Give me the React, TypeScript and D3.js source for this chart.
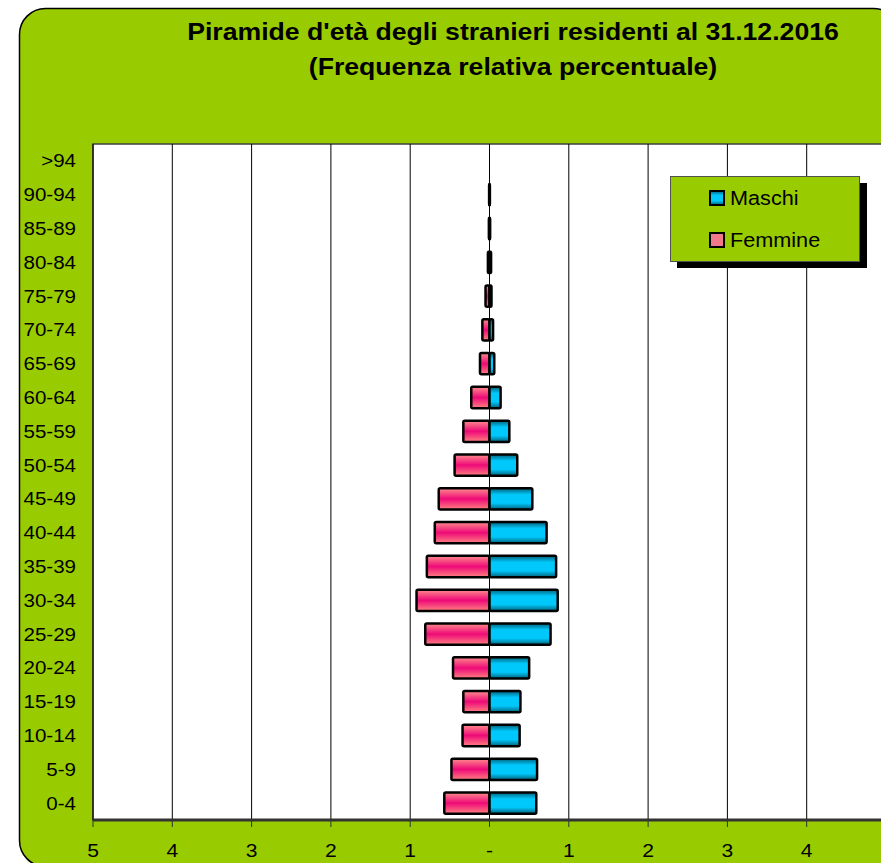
import React from 'react';
import * as d3 from 'd3';

const ageGroups = ['0-4','5-9','10-14','15-19','20-24','25-29','30-34','35-39','40-44','45-49','50-54','55-59','60-64','65-69','70-74','75-79','80-84','85-89','90-94','>94'];
const maschi = [0.59,0.60,0.38,0.39,0.50,0.77,0.86,0.84,0.72,0.54,0.35,0.25,0.14,0.06,0.045,0.025,0.02,0.008,0.005,0];
const femmine = [0.57,0.48,0.34,0.33,0.46,0.81,0.92,0.79,0.69,0.64,0.44,0.33,0.23,0.12,0.09,0.05,0.02,0.008,0.005,0];
const tickValues = [-5,-4,-3,-2,-1,0,1,2,3,4,5];
const tickLabels = ['5','4','3','2','1','-','1','2','3','4','5'];
const titleLines = ["Piramide d'età degli stranieri residenti al 31.12.2016", '(Frequenza relativa percentuale)'];
const seriesNames = ['Maschi', 'Femmine'];

const W = 881, H = 863;
const FONT = 'Arial, "Liberation Sans", sans-serif';
const SX = 1.11;

function T(props: { x: number; y: number; anchor?: string; size: number; bold?: boolean; children: React.ReactNode }) {
  return (
    <text transform={`translate(${props.x},${props.y}) scale(${SX},1)`} textAnchor={props.anchor || 'start'} fontSize={props.size} fontWeight={props.bold ? 'bold' : 'normal'} fill="#000">
      {props.children}
    </text>
  );
}

export default function App() {
  const plot = { left: 93, right: 886, top: 144, bottom: 820 };
  const x = d3.scaleLinear().domain([-5, 5]).range([plot.left, plot.right]);
  const y = d3.scaleBand<string>().domain([...ageGroups].reverse()).range([plot.top, plot.bottom]).paddingInner(0.37).paddingOuter(0.185);
  const bh = y.bandwidth();
  const x0 = x(0);

  return (
    <svg width={W} height={H} style={{ position: 'absolute', left: 0, top: 0, background: '#fff' }} fontFamily={FONT}>
      <defs>
        <linearGradient id="gF" x1="0" y1="0" x2="0" y2="1">
          <stop offset="0" stopColor="#ff8c8c" />
          <stop offset="0.5" stopColor="#ee0a78" />
          <stop offset="1" stopColor="#ff8080" />
        </linearGradient>
        <linearGradient id="gM" x1="0" y1="0" x2="0" y2="1">
          <stop offset="0" stopColor="#00607a" />
          <stop offset="0.3" stopColor="#00c8fa" />
          <stop offset="0.7" stopColor="#00c8fa" />
          <stop offset="1" stopColor="#00607a" />
        </linearGradient>
        <clipPath id="clipAll"><rect x={0} y={0} width={W} height={H} /></clipPath>
      </defs>
      <g clipPath="url(#clipAll)">
        <rect x={19.5} y={8.5} width={880} height={858} rx={26} ry={26} fill="#99cc00" stroke="#000" strokeWidth={1.5} />
        <rect x={plot.left} y={plot.top} width={plot.right - plot.left} height={plot.bottom - plot.top} fill="#fff" stroke="#404040" strokeWidth={1.5} />
        {tickValues.map((t, i) => (
          <line key={'g' + i} x1={x(t)} x2={x(t)} y1={plot.top} y2={plot.bottom} stroke="#000" strokeWidth={1} />
        ))}
        {ageGroups.map((a, i) => {
          const yy = y(a)!;
          const wf = x0 - x(-femmine[i]);
          const wm = x(maschi[i]) - x0;
          return (
            <g key={a}>
              {wf > 0 && <rect x={x(-femmine[i])} y={yy} width={wf} height={bh} fill="url(#gF)" stroke="#000" strokeWidth={2.5} rx={1.5} />}
              {wm > 0 && <rect x={x0} y={yy} width={wm} height={bh} fill="url(#gM)" stroke="#000" strokeWidth={2.5} rx={1.5} />}
            </g>
          );
        })}
        <line x1={x0} x2={x0} y1={plot.top} y2={plot.bottom} stroke="#000" strokeWidth={1} />
        <line x1={plot.left} x2={W + 10} y1={plot.bottom} y2={plot.bottom} stroke="#333" strokeWidth={3} />
        {tickValues.map((t, i) => (
          <g key={'t' + i}>
            <line x1={x(t)} x2={x(t)} y1={plot.bottom} y2={plot.bottom + 7} stroke="#333" strokeWidth={1} />
            <T x={x(t)} y={857} anchor="middle" size={19}>{tickLabels[i]}</T>
          </g>
        ))}
        {ageGroups.map((a) => (
          <T key={'l' + a} x={76} y={y(a)! + bh / 2 + 6.5} anchor="end" size={18.5}>{a}</T>
        ))}
        {titleLines.map((t, i) => (
          <T key={'ti' + i} x={513} y={39.5 + i * 35.5} anchor="middle" size={24} bold>{t}</T>
        ))}
        <g>
          <rect x={677} y={183} width={190} height={85} fill="#000" />
          <rect x={670.5} y={176.5} width={189} height={85} fill="#99cc00" stroke="#505050" strokeWidth={1} />
          {seriesNames.map((s, i) => (
            <g key={s}>
              <rect x={710} y={191 + i * 42} width={14} height={14} fill={i === 0 ? 'url(#gM)' : '#f07a8a'} stroke="#000" strokeWidth={2} />
              <T x={730} y={205 + i * 42} size={19.5}>{s}</T>
            </g>
          ))}
        </g>
      </g>
    </svg>
  );
}
